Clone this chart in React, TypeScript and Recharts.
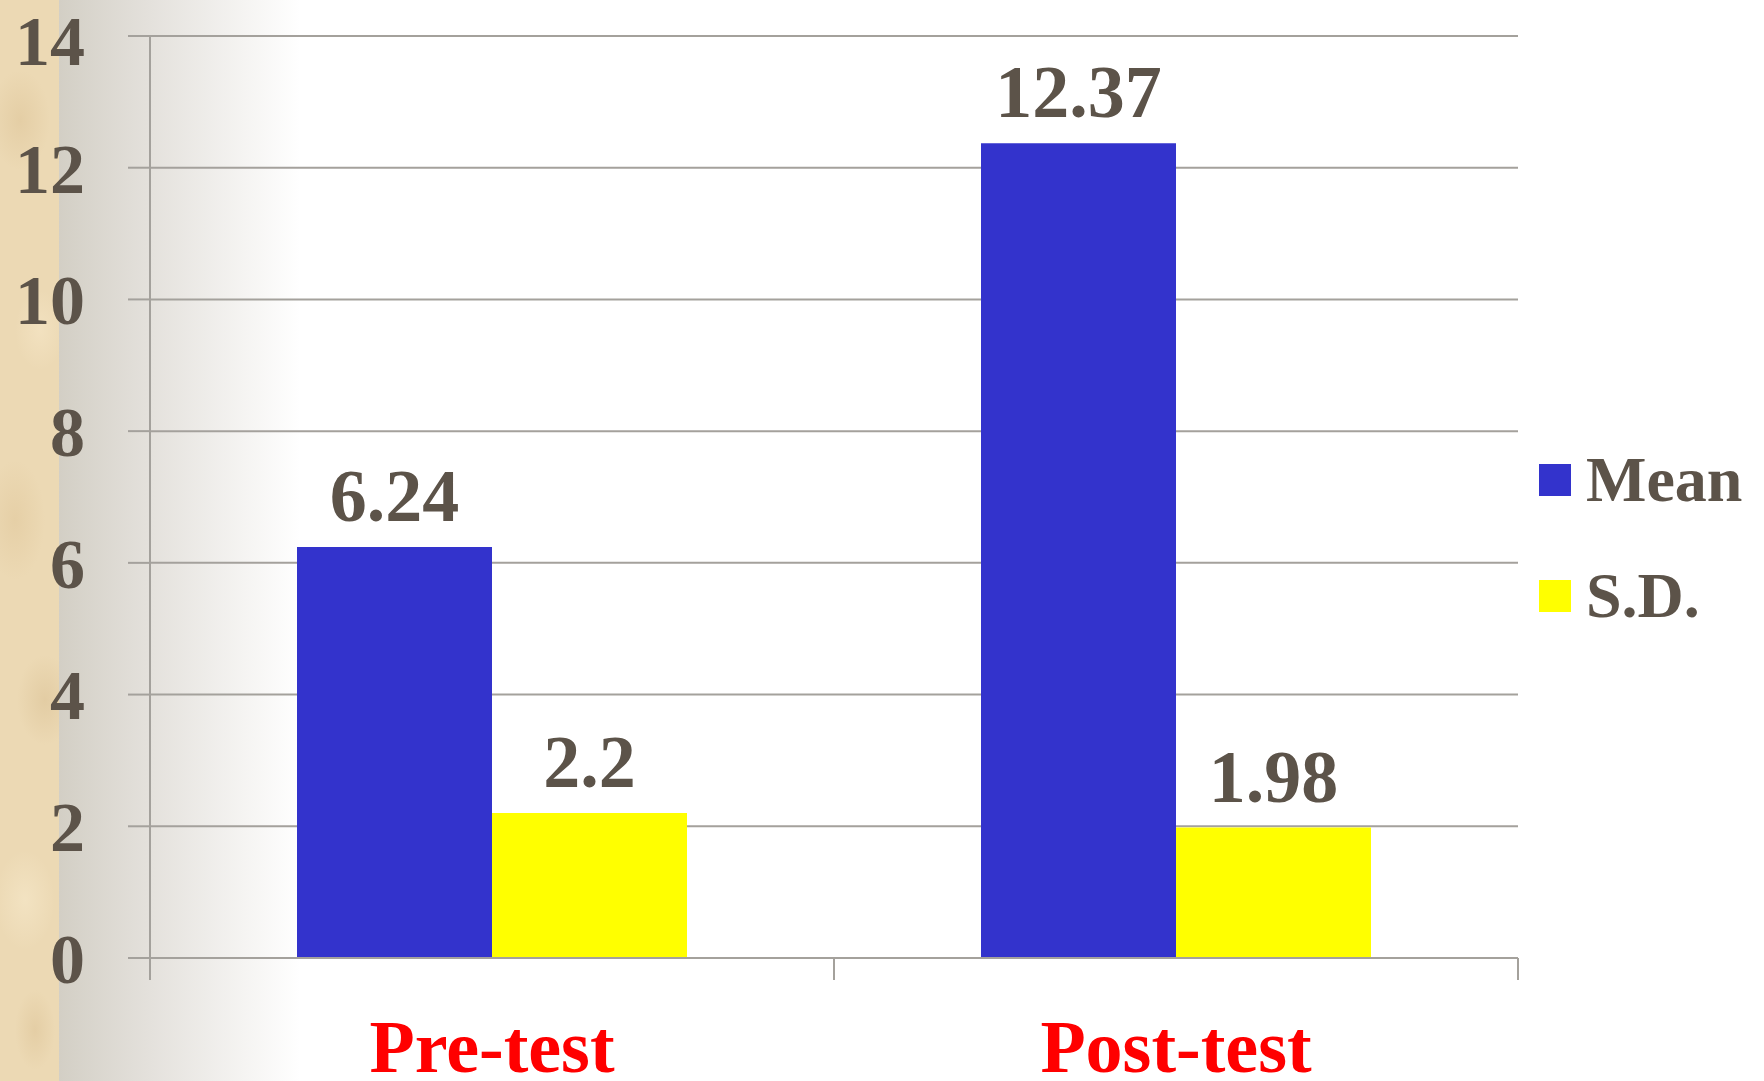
import React from "react";
import { BarChart, Bar, XAxis, YAxis, CartesianGrid, Legend, LabelList } from "recharts";

const groups = ["Pre-test", "Post-test"];
const meanValues = [6.24, 12.37];
const sdValues = [2.2, 1.98];
const yTicks = [0, 2, 4, 6, 8, 10, 12, 14];

const seriesNames = ["Mean", "S.D."];
const seriesColors = ["#3333cc", "#ffff00"];

const chartData = groups.map((g, i) => ({
  group: g,
  mean: meanValues[i],
  sd: sdValues[i],
}));

const FONT = '"Liberation Serif", "Times New Roman", serif';
const TEXT = "#5c5349";
const LINE = "#a4a19c";

// category label plus the tick marks on the band boundaries (half a band either side)
function CategoryTick(props: any) {
  const { x, y, payload, index, visibleTicksCount } = props;
  const half = typeof payload?.offset === "number" ? payload.offset : 0;
  const edges: number[] = [];
  if (half > 0) {
    if (index === 0) edges.push(x - half);
    edges.push(x + half);
  }
  return (
    <g>
      {edges.map((ex) => (
        <line key={ex} x1={ex} x2={ex} y1={y} y2={y + 22} stroke={LINE} strokeWidth={2} />
      ))}
      <text
        x={x}
        y={y + 114}
        textAnchor="middle"
        fill="#ff0000"
        fontSize={74}
        fontWeight={700}
        fontFamily={FONT}
      >
        {payload.value}
      </text>
    </g>
  );
}

function LegendBox() {
  return (
    <div style={{ fontFamily: FONT, fontWeight: 700, color: TEXT }}>
      {seriesNames.map((name, i) => (
        <div key={name} style={{ display: "flex", alignItems: "center", height: 116 }}>
          <span
            style={{ width: 32, height: 32, background: seriesColors[i], marginRight: 15, display: "inline-block" }}
          />
          <span style={{ fontSize: 64, lineHeight: "64px" }}>{name}</span>
        </div>
      ))}
    </div>
  );
}

// parchment strip down the left edge of the slide
const parchment =
  "radial-gradient(ellipse 30px 50px at 20px 120px, rgba(210,180,130,0.3), transparent)," +
  "radial-gradient(ellipse 25px 40px at 40px 330px, rgba(250,235,205,0.45), transparent)," +
  "radial-gradient(ellipse 30px 60px at 15px 520px, rgba(215,185,135,0.3), transparent)," +
  "radial-gradient(ellipse 28px 45px at 45px 700px, rgba(205,175,125,0.3), transparent)," +
  "radial-gradient(ellipse 30px 50px at 25px 900px, rgba(250,238,210,0.45), transparent)," +
  "radial-gradient(ellipse 20px 40px at 35px 1030px, rgba(210,180,130,0.3), transparent)," +
  "#ecd9b4";

export default function App() {
  return (
    <div
      style={{
        position: "absolute",
        top: 0,
        left: 0,
        width: 1764,
        height: 1081,
        background: "linear-gradient(to right, #d3cfc5 59px, #e4e1dc 150px, #ffffff 300px)",
      }}
    >
      <div style={{ position: "absolute", left: 0, top: 0, width: 59, height: 1081, background: parchment }} />
      <div style={{ position: "absolute", left: 0, top: 0 }}>
        <BarChart
          width={1764}
          height={1081}
          data={chartData}
          margin={{ top: 36, right: 246, bottom: 0, left: 0 }}
          barGap={0}
        >
          <CartesianGrid vertical={false} stroke={LINE} strokeWidth={2} />
          <XAxis
            dataKey="group"
            height={123}
            axisLine={{ stroke: LINE, strokeWidth: 2 }}
            tickLine={false}
            tickSize={0}
            tickMargin={0}
            interval={0}
            tick={<CategoryTick />}
          />
          <YAxis
            width={150}
            domain={[0, 14]}
            ticks={yTicks}
            axisLine={{ stroke: LINE, strokeWidth: 2 }}
            tickLine={{ stroke: LINE, strokeWidth: 2 }}
            tickSize={22}
            tickMargin={43}
            tick={{ fill: TEXT, fontSize: 70, fontWeight: 700, fontFamily: FONT }}
          />
          <Legend
            layout="vertical"
            align="center"
            verticalAlign="middle"
            wrapperStyle={{ left: 1539, top: 422, width: 225 }}
            content={() => <LegendBox />}
          />
          <Bar dataKey="mean" name="Mean" fill={seriesColors[0]} barSize={195} isAnimationActive={false}>
            <LabelList
              dataKey="mean"
              position="top"
              offset={26}
              style={{ fill: TEXT, fontSize: 74, fontWeight: 700, fontFamily: FONT }}
            />
          </Bar>
          <Bar dataKey="sd" name="S.D." fill={seriesColors[1]} barSize={195} isAnimationActive={false}>
            <LabelList
              dataKey="sd"
              position="top"
              offset={26}
              style={{ fill: TEXT, fontSize: 74, fontWeight: 700, fontFamily: FONT }}
            />
          </Bar>
        </BarChart>
      </div>
    </div>
  );
}
